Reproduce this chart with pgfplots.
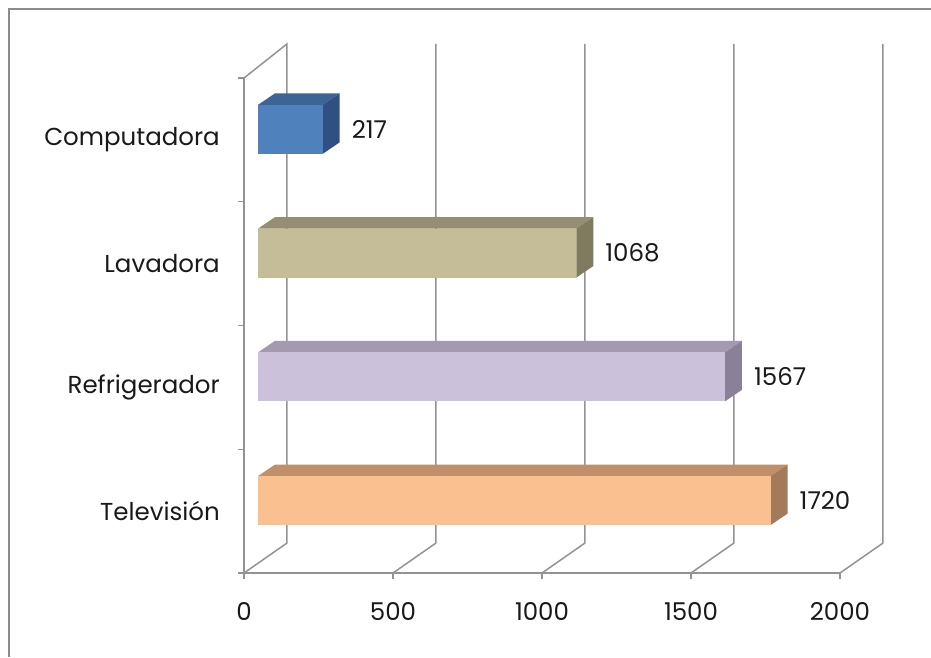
\documentclass[border=0pt]{standalone}
\usepackage{fontspec}
\setmainfont{Poppins}
\usepackage{pgfplots}
\usepackage{pgfplotstable}
\pgfplotsset{compat=1.18}
\definecolor{gridgray}{HTML}{939393}
\definecolor{frameg}{HTML}{8C8C8C}
\definecolor{blueF}{HTML}{4F81BD}
\definecolor{blueT}{HTML}{3C6494}
\definecolor{blueS}{HTML}{2F5080}
\definecolor{tanF}{HTML}{C4BD97}
\definecolor{tanT}{HTML}{958E72}
\definecolor{tanS}{HTML}{7F7B60}
\definecolor{lavF}{HTML}{CCC1DA}
\definecolor{lavT}{HTML}{A399B1}
\definecolor{lavS}{HTML}{8A8199}
\definecolor{pchF}{HTML}{FAC090}
\definecolor{pchT}{HTML}{C0906A}
\definecolor{pchS}{HTML}{A37B5A}
\pgfkeys{/pgf/number format/1000 sep={}}
\pgfplotstableread{
y v
0.5 1720
1.5 1567
2.5 1068
3.5 217
}\datatable
% 3D bar: #1 value, #2 category centre, #3 front, #4 top, #5 side colour
\newcommand\threedbar[5]{%
 \pgfmathsetmacro\xa{47}%
 \pgfmathsetmacro\xb{#1+47}%
 \pgfmathsetmacro\xc{#1+47+57}%
 \pgfmathsetmacro\xd{47+57}%
 \pgfmathsetmacro\ya{#2-0.198+0.085}%
 \pgfmathsetmacro\yb{#2+0.198+0.085}%
 \pgfmathsetmacro\yc{#2-0.198+0.085+0.093}%
 \pgfmathsetmacro\yd{#2+0.198+0.085+0.093}%
 \edef\temp{%
 \noexpand\addplot[fill=#4,draw=none,forget plot] coordinates {(\xa,\yb) (\xb,\yb) (\xc,\yd) (\xd,\yd)};
 \noexpand\addplot[fill=#5,draw=none,forget plot] coordinates {(\xb,\ya) (\xc,\yc) (\xc,\yd) (\xb,\yb)};
 \noexpand\addplot[fill=#3,draw=none,forget plot] coordinates {(\xa,\ya) (\xb,\ya) (\xb,\yb) (\xa,\yb)};
 }\temp
}
\begin{document}
\begin{tikzpicture}
\path[use as bounding box] (0,0) rectangle (931pt,657pt);
\draw[frameg, line width=2pt] (9pt,0) -- (9pt,648pt) -- (931pt,648pt);
\begin{axis}[
  at={(244pt,84pt)}, anchor=south west,
  scale only axis, width=596pt, height=495pt,
  xmin=0, xmax=2000, ymin=0, ymax=4,
  clip=false,
  axis x line*=bottom, axis y line*=left,
  axis line style={draw=gridgray, line width=1.5pt},
  xtick={0,500,1000,1500,2000},
  ytick={0,1,2,3,4},
  yticklabels={Televisión,Refrigerador,Lavadora,Computadora},
  y tick label as interval,
  tick align=outside,
  major tick length=6pt,
  tick style={draw=gridgray, line width=1.3pt},
  /pgf/number format/assume math mode=true,
  /pgf/number format/1000 sep={},
  font=\fontsize{24.5}{29}\selectfont,
  ticklabel style={font=\fontsize{24.5}{29}\selectfont, text=black!90},
  xticklabel style={anchor=north, inner sep=0pt},
  xticklabel shift=23pt,
  yticklabel style={anchor=east, inner sep=0pt},
  yticklabel shift=18pt,
]
% back wall grid lines
\addplot[gridgray, line width=1.5pt, forget plot] coordinates {(0,4) (144,4.275) (144,0.242) (0,0)};
\addplot[gridgray, line width=1.5pt, forget plot] coordinates {(500,0) (644,0.242) (644,4.275)};
\addplot[gridgray, line width=1.5pt, forget plot] coordinates {(1000,0) (1144,0.242) (1144,4.275)};
\addplot[gridgray, line width=1.5pt, forget plot] coordinates {(1500,0) (1644,0.242) (1644,4.275)};
\addplot[gridgray, line width=1.5pt, forget plot] coordinates {(2000,0) (2144,0.242) (2144,4.275)};
% bars
\threedbar{1720}{0.5}{pchF}{pchT}{pchS}
\threedbar{1567}{1.5}{lavF}{lavT}{lavS}
\threedbar{1068}{2.5}{tanF}{tanT}{tanS}
\threedbar{217}{3.5}{blueF}{blueT}{blueS}
% value labels
\addplot[only marks, mark=none, point meta=explicit,
  nodes near coords,
  every node near coord/.append style={anchor=west, inner sep=0pt, text=black!90,
    font=\fontsize{24.5}{29}\selectfont,
    /pgf/number format/assume math mode=true, /pgf/number format/1000 sep={}}]
  table[x expr=\thisrow{v}+144, y expr=\thisrow{y}+0.085, meta=v] {\datatable};
\end{axis}
\end{tikzpicture}
\end{document}
